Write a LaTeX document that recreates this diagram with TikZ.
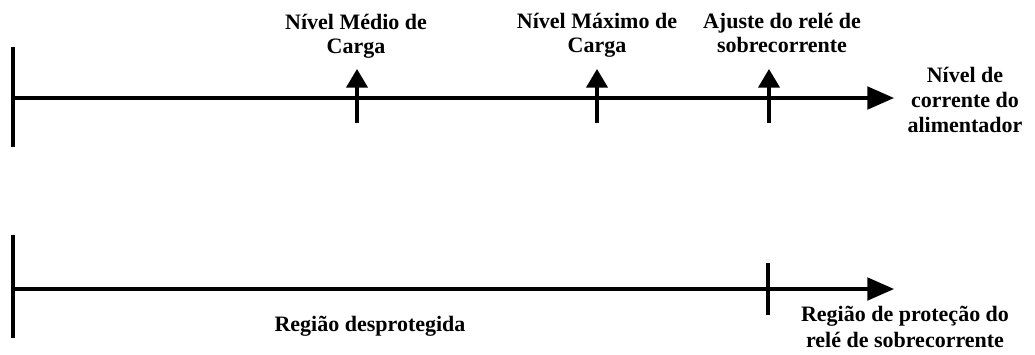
\documentclass[tikz,border=0pt]{standalone}
\usepackage{fontspec}
\setmainfont{Liberation Serif}
\usetikzlibrary{arrows.meta}
\begin{document}
\begin{tikzpicture}[x=0.75pt,y=-0.75pt,
  axis/.style={line width=2.3pt,-{Triangle[length=20pt,width=17pt]}},
  bar/.style={line width=2.3pt},
  uparrow/.style={line width=2.3pt,-{Triangle[length=14pt,width=16pt]}},
  lbl/.style={font=\fontsize{16.5}{17.5}\selectfont\bfseries,align=center,inner sep=0pt,anchor=base}]
\useasboundingbox (0,0) rectangle (1035,354);
% top axis
\coordinate (a0) at (13,98);
\coordinate (a1) at (894,98);
\coordinate (b0) at (13,47);
\coordinate (b1) at (13,147);
\draw[bar] (b0) -- (b1);
\draw[axis] (a0) -- (a1);
\coordinate (m1b) at (357,123);
\coordinate (m1t) at (357,69);
\coordinate (m2b) at (597,123);
\coordinate (m2t) at (597,69);
\coordinate (m3b) at (769,123);
\coordinate (m3t) at (769,69);
\draw[uparrow] (m1b) -- (m1t);
\draw[uparrow] (m2b) -- (m2t);
\draw[uparrow] (m3b) -- (m3t);
\node[lbl] (t1) at (356,53) {Nível Médio de\\Carga};
\node[lbl] (t2) at (597,52) {Nível Máximo de\\Carga};
\node[lbl] (t3) at (782,52) {Ajuste do relé de\\sobrecorrente};
\node[lbl,font=\fontsize{16.5}{18.5}\selectfont\bfseries] (t4) at (965,132) {Nível de\\corrente do\\alimentador};
% bottom axis
\coordinate (c0) at (13,289);
\coordinate (c1) at (894,289);
\coordinate (d0) at (13,235);
\coordinate (d1) at (13,338);
\coordinate (e0) at (768,263);
\coordinate (e1) at (768,315);
\draw[bar] (d0) -- (d1);
\draw[axis] (c0) -- (c1);
\draw[bar] (e0) -- (e1);
\node[lbl] (r1) at (370,331) {Região desprotegida};
\node[lbl,font=\fontsize{16.5}{19.5}\selectfont\bfseries] (r2) at (905,347) {Região de proteção do\\relé de sobrecorrente};
\end{tikzpicture}
\end{document}
